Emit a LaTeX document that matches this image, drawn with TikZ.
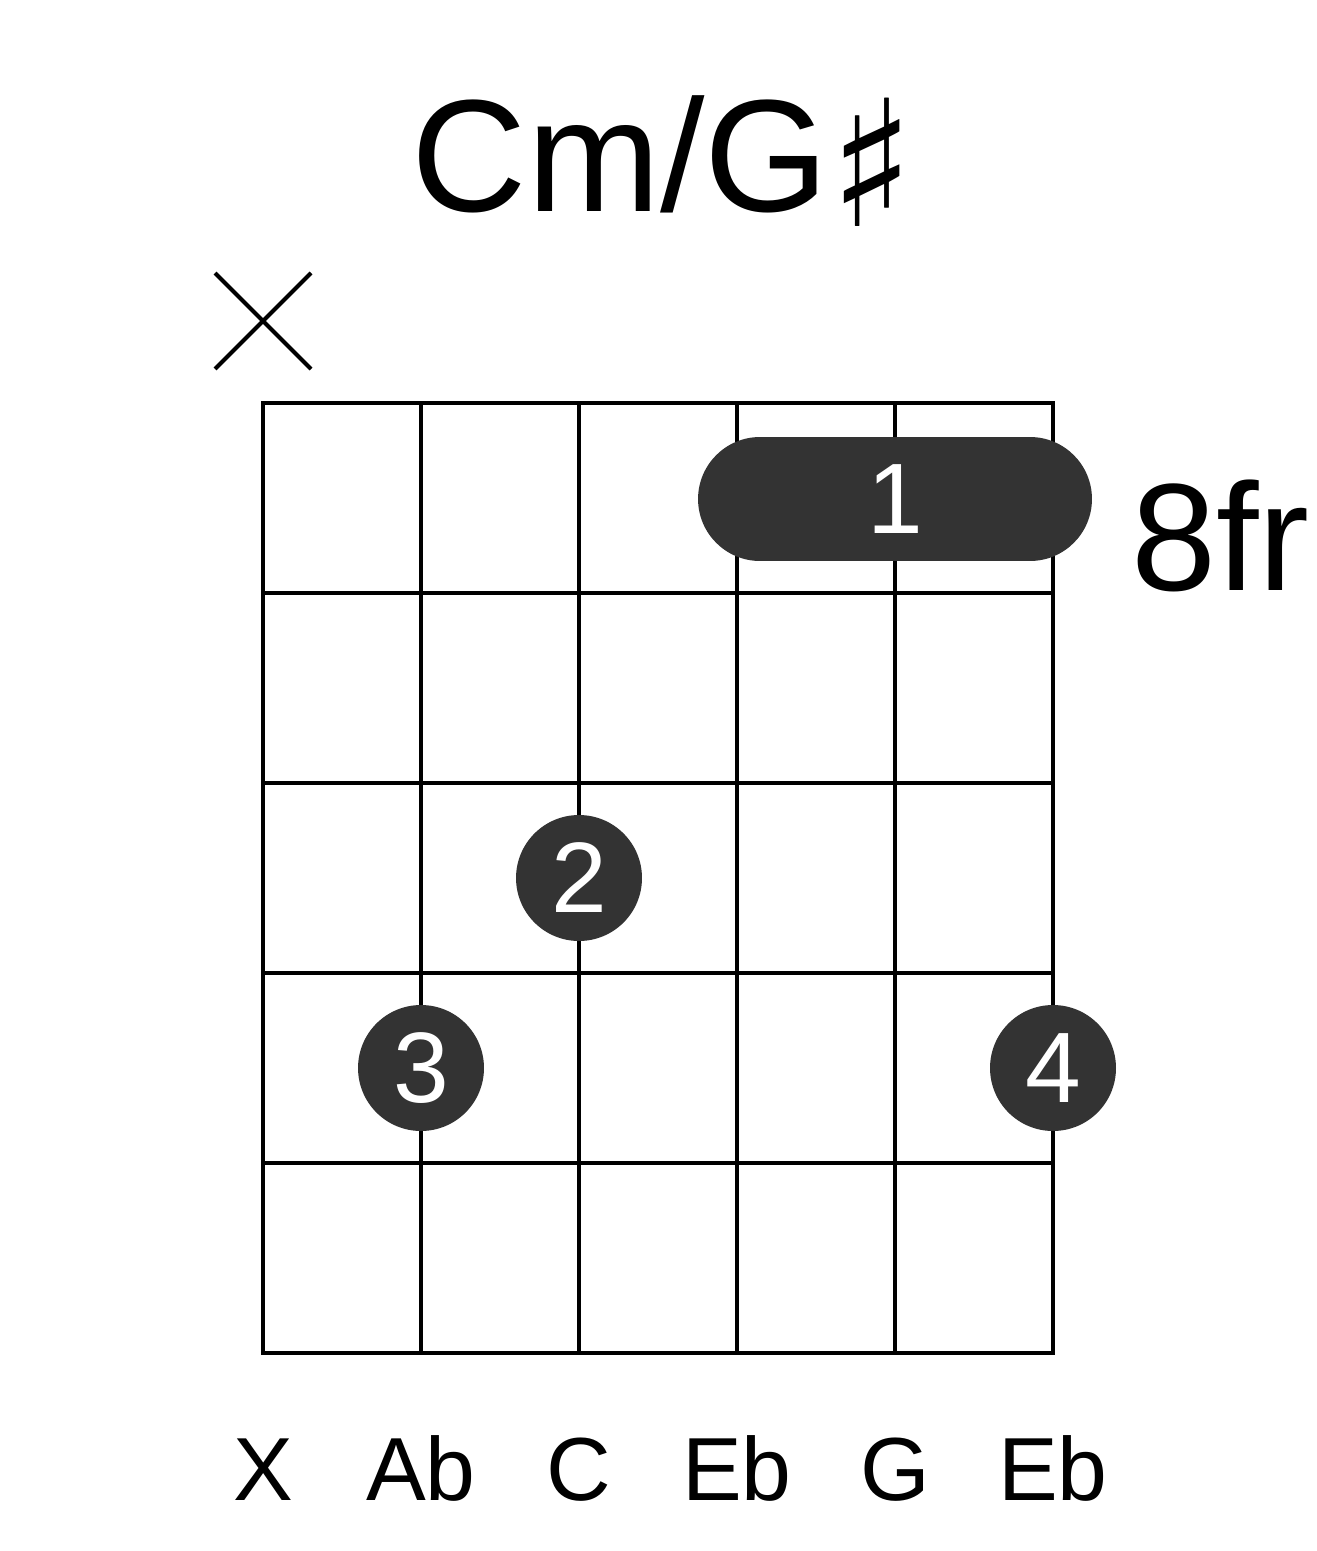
\documentclass[tikz,border=0pt]{standalone}
\usepackage{fontspec}
\setmainfont{Liberation Sans}
\newfontfamily\symfont{DejaVu Sans}
\usepackage{xcolor}
\usetikzlibrary{positioning}
\definecolor{dotgray}{HTML}{333333}

\begin{document}
\begin{tikzpicture}[
  x=0.02cm, y=-0.02cm,
  fretline/.style={line width=2.6pt, black, line cap=rect},
  finger/.style={circle, fill=dotgray, minimum size=2.52cm, inner sep=0pt,
                 text=white, font=\fontsize{57}{57}\selectfont},
  barre/.style={rectangle, rounded corners=1.24cm, fill=dotgray, inner sep=0pt,
                minimum width=7.88cm, minimum height=2.48cm},
  note/.style={anchor=base, font=\fontsize{51}{51}\selectfont},
  title/.style={anchor=base, font=\fontsize{91}{91}\selectfont}
]
\useasboundingbox (0,0) rectangle (1317,1551);

% title
\node[title] (chord) at (663,212)
  {Cm/G\raisebox{-0.3cm}{\symfont\fontsize{100}{100}\selectfont ♯}};

% muted string
\draw[line width=2.4pt] (215,273) -- (311,369) (311,273) -- (215,369);

% grid
\foreach \s in {0,...,5}
  \draw[fretline] (263+158*\s,403) -- (263+158*\s,1353);
\foreach \f in {0,...,5}
  \draw[fretline] (263,403+190*\f) -- (1053,403+190*\f);

% fingers
\node[barre] (bar) at (895,499) {};
\node[text=white, font=\fontsize{57}{57}\selectfont] (one) at (bar.center) {1};
\node[finger] (two) at (579,878) {2};
\node[finger] (three) at (421,1068) {3};
\node[finger] (four) at (1053,1068) {4};

% fret number
\node[anchor=base west, inner sep=0pt, font=\fontsize{87}{87}\selectfont]
  (pos) at (1131,590) {8fr};

% notes
\node[note] (n1) at (263,1500) {X};
\node[note] (n2) at (421,1500) {Ab};
\node[note] (n3) at (579,1500) {C};
\node[note] (n4) at (737,1500) {Eb};
\node[note] (n5) at (895,1500) {G};
\node[note] (n6) at (1053,1500) {Eb};
\end{tikzpicture}
\end{document}
